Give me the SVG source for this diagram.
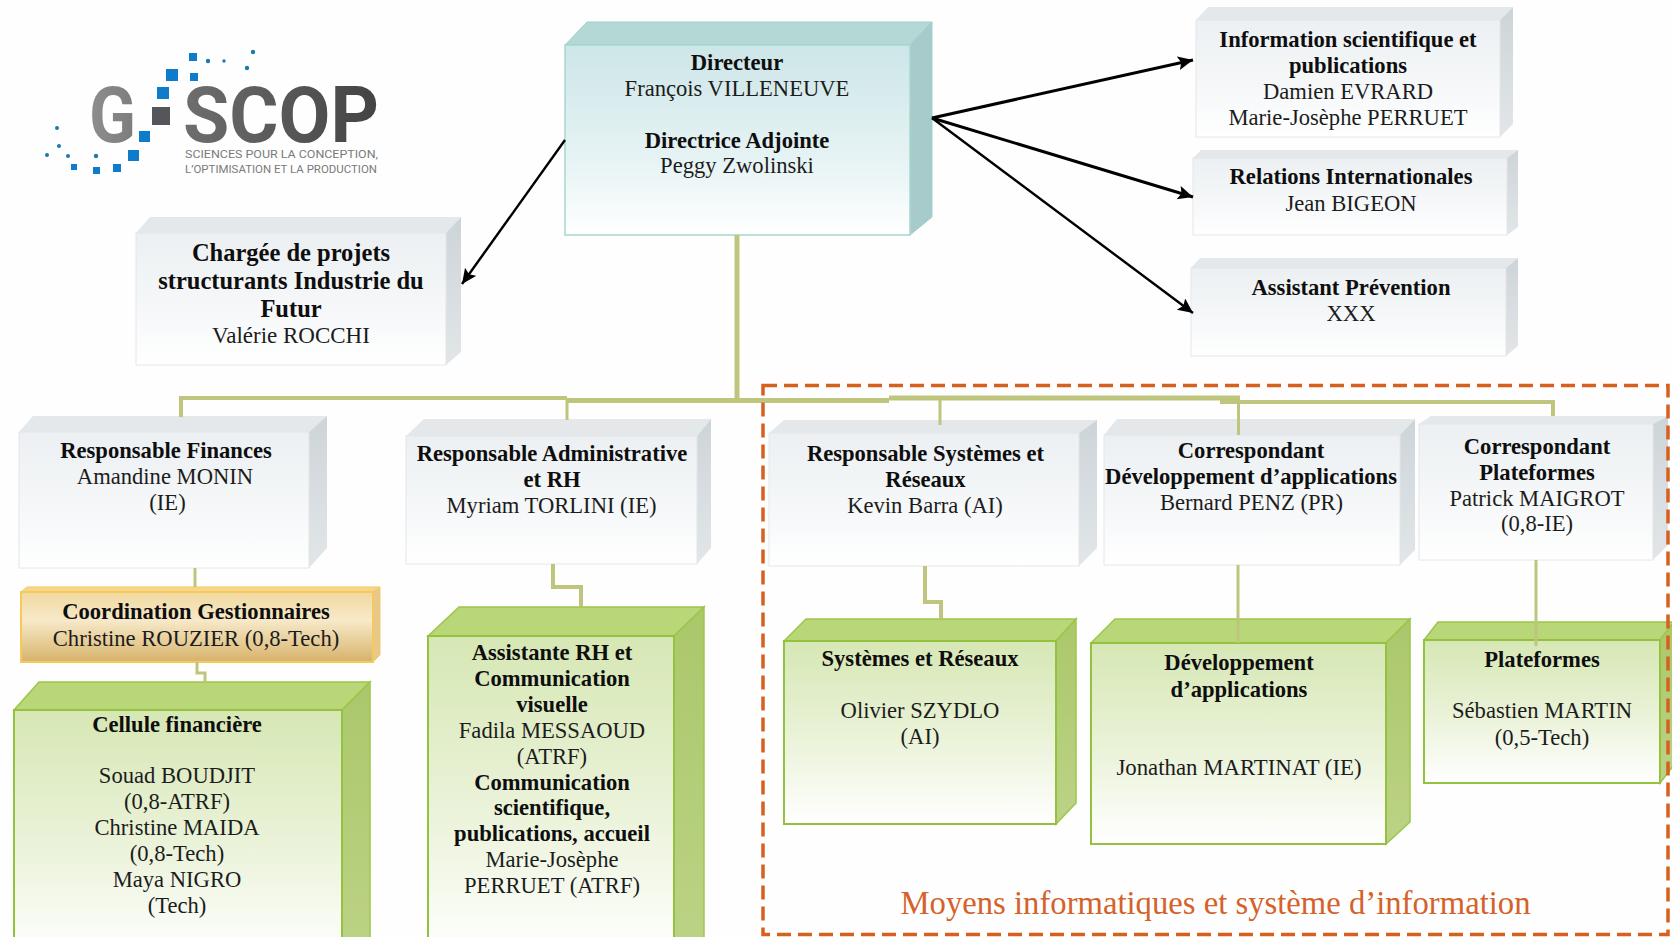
<svg xmlns="http://www.w3.org/2000/svg" width="1672" height="937" viewBox="0 0 1672 937">
<style>
text{font-family:"Liberation Serif","Times New Roman",serif;font-size:22.6px;fill:#1c1c1c;text-anchor:middle}
.b{font-weight:700;fill:#0e0e0e}
.big{font-size:24.5px}
.gt{fill:#e4e8ea}.gr{fill:url(#greyside)}.gf{fill:url(#grey);stroke:#e3e6e8;stroke-width:1}
.tt{fill:#b4d8d5;stroke:#a3cfc9}.tr{fill:#a7cbca;stroke:#a3cfc9}.tf{fill:url(#teal);stroke:#a8d6cf;stroke-width:1.5}
.nt{fill:#b9d678;stroke:#9cc64a;stroke-width:1.5}.nr{fill:url(#greenside);stroke:#9cc64a;stroke-width:1.5}.nf{fill:url(#green);stroke:#93c23f;stroke-width:2}
.c{fill:none;stroke:#bfc57c;stroke-width:3}
.m{stroke-width:5}
.a{fill:none;stroke:#000;stroke-width:3;marker-end:url(#arrow)}
.sq{fill:#0f7ccb}.dot{fill:#1a7aa8}
.logo{font-family:Roboto,"Liberation Sans",sans-serif;text-anchor:start}
</style>
<defs>
<linearGradient id="grey" x1="0" y1="0" x2="0" y2="1"><stop offset="0" stop-color="#ecf0f2"/><stop offset=".6" stop-color="#f6f8f9"/><stop offset="1" stop-color="#fff"/></linearGradient>
<linearGradient id="greyside" x1="0" y1="0" x2="0" y2="1"><stop offset="0" stop-color="#cdd4d8"/><stop offset="1" stop-color="#e2e6e9"/></linearGradient>
<linearGradient id="teal" x1="0" y1="0" x2="0" y2="1"><stop offset="0" stop-color="#cde6e8"/><stop offset=".6" stop-color="#e6f3f4"/><stop offset="1" stop-color="#fff"/></linearGradient>
<linearGradient id="green" x1="0" y1="0" x2="0" y2="1"><stop offset="0" stop-color="#d6e7b4"/><stop offset=".55" stop-color="#ebf3da"/><stop offset="1" stop-color="#fff"/></linearGradient>
<linearGradient id="greenside" x1="0" y1="0" x2="0" y2="1"><stop offset="0" stop-color="#abc76a"/><stop offset="1" stop-color="#bcd386"/></linearGradient>
<linearGradient id="gold" x1="0" y1="0" x2="0" y2="1"><stop offset="0" stop-color="#f0d9a0"/><stop offset=".4" stop-color="#f7e9c9"/><stop offset=".8" stop-color="#e2c58a"/><stop offset="1" stop-color="#d6b26a"/></linearGradient>
<linearGradient id="logoG" x1="0" y1="0" x2="1" y2="0"><stop offset="0" stop-color="#8e8e8e"/><stop offset="1" stop-color="#7c7c7c"/></linearGradient>
<linearGradient id="logoS" x1="0" y1="0" x2="1" y2="0"><stop offset="0" stop-color="#6e6e6e"/><stop offset="1" stop-color="#434343"/></linearGradient>
<marker id="arrow" markerUnits="userSpaceOnUse" markerWidth="18" markerHeight="16" refX="15" refY="7" orient="auto"><path d="M0 0L15 7L0 14L3 7Z" fill="#000"/></marker>
</defs>
<rect width="1672" height="937" fill="#fefefe"/>

<g id="logo">
<text class="logo" x="89" y="142" font-weight="700" style="font-size:78px;fill:url(#logoG)" textLength="47" lengthAdjust="spacingAndGlyphs">G</text>
<text class="logo" x="183" y="142" font-weight="700" style="font-size:78px;fill:url(#logoS)" textLength="196" lengthAdjust="spacingAndGlyphs">SCOP</text>
<text class="logo" x="185" y="158" style="font-size:10.5px;fill:#7a7a7a" textLength="193" lengthAdjust="spacingAndGlyphs">SCIENCES POUR LA CONCEPTION,</text>
<text class="logo" x="185" y="173" style="font-size:10.5px;fill:#7a7a7a" textLength="192" lengthAdjust="spacingAndGlyphs">L’OPTIMISATION ET LA PRODUCTION</text>
<rect x="152" y="107" width="18" height="18" fill="#55565a"/>
<rect class="sq" x="189" y="53" width="8" height="8"/><rect class="sq" x="166" y="69" width="12" height="12"/><rect class="sq" x="190" y="73" width="8" height="8"/><rect class="sq" x="157" y="87" width="12" height="12"/><rect class="sq" x="139" y="131" width="11" height="11"/><rect class="sq" x="128" y="150" width="11" height="11"/><rect class="sq" x="113" y="164" width="8" height="8"/><rect class="sq" x="93" y="167" width="7" height="7"/><rect class="sq" x="71" y="164" width="6" height="6"/>
<circle class="dot" cx="208" cy="61" r="2.2"/><circle class="dot" cx="224" cy="61" r="1.7"/><circle class="dot" cx="247" cy="68" r="2.2"/><circle class="dot" cx="253" cy="52" r="2.2"/><circle class="dot" cx="57" cy="128" r="2"/><circle class="dot" cx="59" cy="146" r="2"/><circle class="dot" cx="68" cy="156" r="2"/><circle class="dot" cx="47" cy="155" r="2"/><circle class="dot" cx="96" cy="156" r="2.2"/>
</g>

<g id="directeur">
<polygon class="tt" points="565,45 587,22 932,22 910,45"/><polygon class="tr" points="910,45 932,22 932,217 910,235"/><rect class="tf" x="565" y="45" width="345" height="190"/>
<text class="b" x="737" y="70">Directeur</text><text x="737" y="96">François VILLENEUVE</text><text class="b" x="737" y="148">Directrice Adjointe</text><text x="737" y="173">Peggy Zwolinski</text>
</g>

<g id="information">
<polygon class="gt" points="1196,20 1208,7 1513,7 1500,20"/><polygon class="gr" points="1500,20 1513,7 1513,124 1500,137"/><rect class="gf" x="1196" y="20" width="304" height="117"/>
<text class="b" x="1348" y="47">Information scientifique et</text><text class="b" x="1348" y="73">publications</text><text x="1348" y="99">Damien EVRARD</text><text x="1348" y="125">Marie-Josèphe PERRUET</text>
</g>
<g id="relations">
<polygon class="gt" points="1193,158 1201,150 1518,150 1507,158"/><polygon class="gr" points="1507,158 1518,150 1518,227 1507,235"/><rect class="gf" x="1193" y="158" width="314" height="77"/>
<text class="b" x="1351" y="184">Relations Internationales</text><text x="1351" y="211">Jean BIGEON</text>
</g>
<g id="prevention">
<polygon class="gt" points="1191,268 1200,258 1518,258 1506,268"/><polygon class="gr" points="1506,268 1518,258 1518,346 1506,356"/><rect class="gf" x="1191" y="268" width="315" height="88"/>
<text class="b" x="1351" y="295">Assistant Prévention</text><text x="1351" y="321">XXX</text>
</g>
<g id="chargee">
<polygon class="gt" points="136,233 150,217 461,217 446,233"/><polygon class="gr" points="446,233 461,217 461,352 446,365"/><rect class="gf" x="136" y="233" width="310" height="132"/>
<text class="b big" x="291" y="261">Chargée de projets</text><text class="b big" x="291" y="289">structurants Industrie du</text><text class="b big" x="291" y="317">Futur</text><text x="291" y="343" style="font-size:23px">Valérie ROCCHI</text>
</g>

<g id="finances">
<polygon class="gt" points="19,432 33,416 327,416 309,432"/><polygon class="gr" points="309,432 327,416 327,548 309,568"/><rect class="gf" x="19" y="432" width="290" height="136"/>
<text class="b" x="166" y="458">Responsable Finances</text><text x="165" y="484">Amandine MONIN</text><text x="167.500" y="510">(IE)</text>
</g>
<g id="administrative">
<polygon class="gt" points="406,436 424,419 711,419 697,436"/><polygon class="gr" points="697,436 711,419 711,548 697,564"/><rect class="gf" x="406" y="436" width="291" height="128"/>
<text class="b" x="552" y="461">Responsable Administrative</text><text class="b" x="552" y="487">et RH</text><text x="551.500" y="513">Myriam TORLINI (IE)</text>
</g>
<g id="coordination">
<polygon points="21,592 27,587 380,587 373,592" fill="#f6d78a" stroke="#f5c95b"/><polygon points="373,592 380,587 380,655 373,662" fill="#e7c98c" stroke="#f5c95b"/><rect x="21" y="592" width="352" height="70" fill="url(#gold)" stroke="#f5c95b" stroke-width="2"/>
<text class="b" x="196" y="619">Coordination Gestionnaires</text><text x="196" y="646">Christine ROUZIER (0,8-Tech)</text>
</g>
<g id="cellule">
<polygon class="nt" points="14,710 39,682 370,682 342,710"/><polygon class="nr" points="342,710 370,682 370,960 342,960"/><rect class="nf" x="14" y="710" width="328" height="250"/>
<text class="b" x="177" y="732">Cellule financière</text><text x="177" y="783">Souad BOUDJIT</text><text x="177" y="809">(0,8-ATRF)</text><text x="177" y="835">Christine MAIDA</text><text x="177" y="861">(0,8-Tech)</text><text x="177" y="887">Maya NIGRO</text><text x="177" y="913">(Tech)</text>
</g>
<g id="assistante">
<polygon class="nt" points="428,636 459,607 704,607 674,636"/><polygon class="nr" points="674,636 704,607 704,960 674,960"/><rect class="nf" x="428" y="636" width="246" height="324"/>
<text class="b" x="552" y="660">Assistante RH et</text><text class="b" x="552" y="686">Communication</text><text class="b" x="552" y="712">visuelle</text><text x="552" y="738">Fadila MESSAOUD</text><text x="552" y="764">(ATRF)</text><text class="b" x="552" y="790">Communication</text><text class="b" x="552" y="815">scientifique,</text><text class="b" x="552" y="841">publications, accueil</text><text x="552" y="867">Marie-Josèphe</text><text x="552" y="893">PERRUET (ATRF)</text>
</g>
<g id="resp-systemes">
<polygon class="gt" points="769,433 784,420 1097,420 1079,433"/><polygon class="gr" points="1079,433 1097,420 1097,548 1079,566"/><rect class="gf" x="769" y="433" width="310" height="133"/>
<text class="b" x="925.500" y="461">Responsable Systèmes et</text><text class="b" x="925.500" y="487">Réseaux</text><text x="925" y="513">Kevin Barra (AI)</text>
</g>
<g id="corr-dev">
<polygon class="gt" points="1104,435 1117,419 1415,419 1400,435"/><polygon class="gr" points="1400,435 1415,419 1415,550 1400,565"/><rect class="gf" x="1104" y="435" width="296" height="130"/>
<text class="b" x="1251" y="458">Correspondant</text><text class="b" x="1251" y="484">Développement d’applications</text><text x="1251.500" y="510">Bernard PENZ (PR)</text>
</g>
<g id="corr-plateformes">
<polygon class="gt" points="1419,424 1431,416 1668,416 1653,424"/><polygon class="gr" points="1653,424 1668,416 1668,545 1653,560"/><rect class="gf" x="1419" y="424" width="234" height="136"/>
<text class="b" x="1537" y="454">Correspondant</text><text class="b" x="1537" y="480">Plateformes</text><text x="1537" y="506">Patrick MAIGROT</text><text x="1537" y="531">(0,8-IE)</text>
</g>
<g id="systemes">
<polygon class="nt" points="784,641 806,619 1076,619 1056,641"/><polygon class="nr" points="1056,641 1076,619 1076,803 1056,824"/><rect class="nf" x="784" y="641" width="272" height="183"/>
<text class="b" x="920" y="666">Systèmes et Réseaux</text><text x="920" y="718">Olivier SZYDLO</text><text x="920" y="744">(AI)</text>
</g>
<g id="developpement">
<polygon class="nt" points="1091,643 1115,619 1410,619 1386,643"/><polygon class="nr" points="1386,643 1410,619 1410,822 1386,844"/><rect class="nf" x="1091" y="643" width="295" height="201"/>
<text class="b" x="1239" y="670">Développement</text><text class="b" x="1239" y="697">d’applications</text><text x="1239" y="775" style="font-size:22.8px">Jonathan MARTINAT (IE)</text>
</g>
<g id="plateformes">
<polygon class="nt" points="1424,640 1438,622 1674,622 1660,640"/><polygon class="nr" points="1660,640 1674,622 1674,765 1660,783"/><rect class="nf" x="1424" y="640" width="236" height="143"/>
<text class="b" x="1542" y="667">Plateformes</text><text x="1542" y="718">Sébastien MARTIN</text><text x="1542" y="745">(0,5-Tech)</text>
</g>

<g id="connectors">
<path class="c m" d="M737 235V400"/>
<path class="c m" d="M567 400.500H889"/>
<path class="c" d="M181 417V398H567" style="stroke-width:4"/>
<path class="c m" d="M889 398H1240"/>
<path class="c" d="M1220 402H1553V416" style="stroke-width:4"/>
<path class="c" d="M567 400V420"/><path class="c" d="M940 400V425"/><path class="c" d="M1238.500 398V435"/>
<path class="c" d="M195 568V587"/>
<path class="c" d="M197 662V673H205V682"/>
<path class="c" d="M553 564V587H581V607" style="stroke-width:4"/>
<path class="c" d="M925 566V602H941V619" style="stroke-width:4"/>
<path class="c" d="M1238 565V643"/>
<path class="c" d="M1536 560V646"/>
<line class="a" x1="932" y1="118" x2="1193" y2="60"/>
<line class="a" x1="932" y1="118" x2="1193" y2="197"/>
<line class="a" x1="932" y1="118" x2="1193" y2="313" style="stroke-width:2.4"/>
<line class="a" x1="565" y1="140" x2="462" y2="284" style="stroke-width:2.4"/>
</g>

<g id="moyens-informatiques">
<rect x="763" y="385.500" width="905" height="549" fill="none" stroke="#d8601f" stroke-width="3.500" stroke-dasharray="14 7"/>
<text x="1215.500" y="914" style="font-size:32.700px;fill:#d4622a">Moyens informatiques et système d’information</text>
</g>
</svg>
